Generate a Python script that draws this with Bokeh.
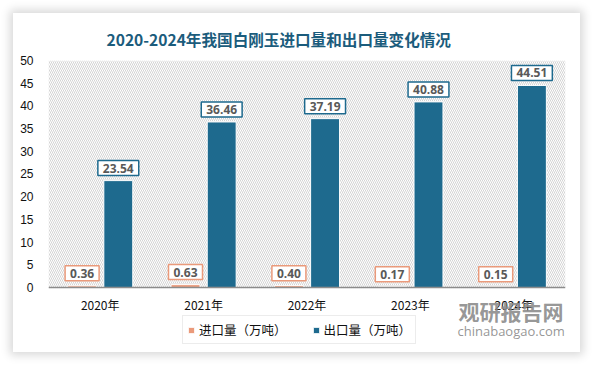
import numpy as np
from bokeh.plotting import figure
from bokeh.models import (Range1d, FixedTicker, Label, Legend, LegendItem,
                          BoxAnnotation, ColumnDataSource, Span)
from bokeh.core.properties import value
from bokeh.embed import file_html
from bokeh.resources import INLINE

years = ["2020年", "2021年", "2022年", "2023年", "2024年"]
imports = [0.36, 0.63, 0.40, 0.17, 0.15]
exports = [23.54, 36.46, 37.19, 40.88, 44.51]
y_ticks = [0, 5, 10, 15, 20, 25, 30, 35, 40, 45, 50]

title_text = "2020-2024年我国白刚玉进口量和出口量变化情况"
imp_name = "进口量（万吨）"
exp_name = "出口量（万吨）"

IMP_COLOR = "#ea9a7b"
EXP_COLOR = "#1e6a8e"

xs = np.arange(len(years))
baseline = [y_ticks[0]] * len(years)
src = ColumnDataSource(dict(x_imp=xs - 0.175, x_exp=xs + 0.175,
                            imp=imports, exp=exports))
lab_src = ColumnDataSource(dict(x=xs, y=baseline, t=years))

p = figure(width=567, height=339, output_backend="svg", toolbar_location=None,
           x_range=Range1d(-0.5, len(years) - 0.5),
           y_range=Range1d(-12.78, y_ticks[-1]),
           min_border_left=35, min_border_right=15, min_border_top=47,
           min_border_bottom=7)
p.styles = {"margin-left": "13px", "margin-top": "13px",
            "box-shadow": "0px 0px 9px 3px rgba(0,0,0,0.16)"}

p.background_fill_color = "white"
p.border_fill_color = "white"
p.outline_line_color = None
p.xgrid.visible = False
p.ygrid.visible = False

# hatched plot background (value area only)
p.add_layout(BoxAnnotation(bottom=y_ticks[0], fill_color="white", fill_alpha=1,
                           line_color=None,
                           hatch_pattern="left_diagonal_line",
                           hatch_color="#d4d4d4", hatch_scale=4,
                           hatch_weight=1, level="underlay"))

r_imp = p.vbar(x="x_imp", top="imp", width=0.28, source=src,
               fill_color=IMP_COLOR, line_color="white", line_width=1)
r_exp = p.vbar(x="x_exp", top="exp", width=0.28, source=src,
               fill_color=EXP_COLOR, line_color="white", line_width=1)

# x axis line and category labels
p.add_layout(Span(location=y_ticks[0], dimension="width",
                  line_color="#8c8c8c", line_width=1.5))
p.text(x="x", y="y", text="t", source=lab_src, text_align="center",
       text_baseline="top", y_offset=9, text_font=value("Noto Sans CJK SC"),
       text_font_size="12px", text_color="#111111")
p.xaxis.visible = False

# data labels
for xi, v in zip(xs - 0.175, imports):
    p.add_layout(Label(x=xi, y=v, text=f"{v:.2f}", anchor="bottom_center",
                       y_offset=5, padding=(5, 3),
                       text_font="Open Sans", text_font_style="bold",
                       text_font_size="12px", text_color="#595959",
                       background_fill_color="white",
                       border_line_color=IMP_COLOR, border_line_width=1.5))
for xi, v in zip(xs + 0.175, exports):
    p.add_layout(Label(x=xi, y=v, text=f"{v:.2f}", anchor="bottom_center",
                       y_offset=5, padding=(5, 3),
                       text_font="Open Sans", text_font_style="bold",
                       text_font_size="12px", text_color="#595959",
                       background_fill_color="white",
                       border_line_color=EXP_COLOR, border_line_width=1.5))

# y axis
p.yaxis.ticker = FixedTicker(ticks=y_ticks)
p.yaxis.axis_line_color = None
p.yaxis.major_tick_line_color = None
p.yaxis.minor_tick_line_color = None
p.yaxis.major_tick_out = 0
p.yaxis.major_tick_in = 0
p.yaxis.major_label_text_font = "Liberation Sans"
p.yaxis.major_label_text_font_size = "12px"
p.yaxis.major_label_text_color = "#111111"
p.yaxis.major_label_standoff = 15

# title
p.title.text = title_text
p.title.align = "left"
p.title.offset = 58
p.title.text_font = "Noto Sans CJK SC"
p.title.text_font_style = "bold"
p.title.text_font_size = "15.6px"
p.title.text_color = "#1b5c7c"
p.title.standoff = 22

# legend
legend = Legend(items=[LegendItem(label=imp_name, renderers=[r_imp]),
                       LegendItem(label=exp_name, renderers=[r_exp])],
                orientation="horizontal", location=(134, 1),
                glyph_width=8, glyph_height=8, label_standoff=4, spacing=25,
                padding=4, margin=0,
                label_text_font="Noto Sans CJK SC", label_text_font_size="12.5px",
                label_text_color="#111111",
                border_line_color="#d9d9d9", border_line_width=1,
                background_fill_color="white", background_fill_alpha=1)
p.add_layout(legend, "center")

# watermark
p.add_layout(Label(x=410, y=20, x_units="screen", y_units="screen",
                   text="观研报告网", text_font="Noto Sans CJK SC",
                   text_font_style="bold", text_font_size="21px",
                   text_color="#8a8a8a", text_alpha=0.9))
p.add_layout(Label(x=409, y=6, x_units="screen", y_units="screen",
                   text="chinabaogao.com", text_font="Open Sans",
                   text_font_size="13px", text_color="#8a8a8a",
                   text_alpha=0.9))

open("out.html", "w").write(file_html(p, INLINE))
